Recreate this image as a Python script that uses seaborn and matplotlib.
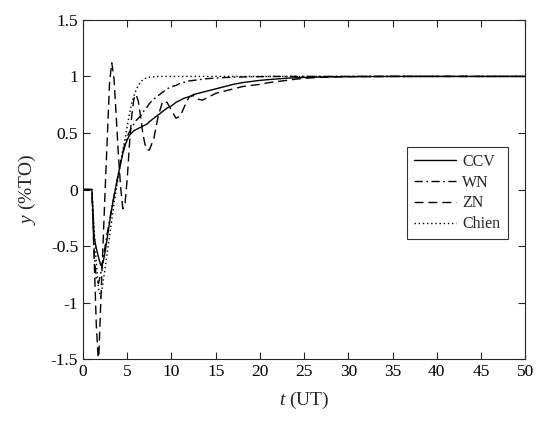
import numpy as np
import pandas as pd
import matplotlib
matplotlib.use('Agg')
import matplotlib.pyplot as plt
import seaborn as sns

# time samples (UT) shared by all four responses
t = [0, 1.0, 1.25, 1.5, 1.75, 2.0, 2.25, 2.5, 2.75, 3.0, 3.25, 3.5, 3.75, 4.0,
     4.25, 4.5, 4.75, 5.0, 5.25, 5.5, 5.75, 6.0, 6.25, 6.5, 6.75, 7.0, 7.25, 7.5,
     8.0, 8.5, 9.0, 9.5, 10.0, 10.5, 11.0, 11.5, 12.0, 12.5, 13.0, 13.5, 14.0,
     15, 16, 17, 18, 19, 20, 21, 22, 23, 24, 25, 27, 30, 35, 40, 50]

ccv = [0, 0, -0.42, -0.52, -0.60, -0.67, -0.65, -0.55, -0.42, -0.29, -0.17, -0.06, 0.04, 0.14,
       0.23, 0.32, 0.39, 0.44, 0.48, 0.50, 0.52, 0.53, 0.54, 0.55, 0.56, 0.57, 0.58, 0.60,
       0.63, 0.66, 0.69, 0.72, 0.74, 0.77, 0.79, 0.81, 0.82, 0.84, 0.85, 0.86, 0.87,
       0.89, 0.91, 0.93, 0.945, 0.955, 0.965, 0.972, 0.978, 0.984, 0.988, 0.991, 0.995, 0.998, 1, 1, 1]

wn = [0, 0, -0.55, -0.80, -0.83, -0.74, -0.62, -0.50, -0.38, -0.27, -0.16, -0.06, 0.04, 0.14,
      0.24, 0.33, 0.41, 0.47, 0.51, 0.55, 0.58, 0.61, 0.63, 0.65, 0.68, 0.71, 0.73, 0.76,
      0.80, 0.83, 0.86, 0.89, 0.91, 0.92, 0.94, 0.95, 0.96, 0.965, 0.97, 0.975, 0.98,
      0.985, 0.99, 0.993, 0.995, 0.997, 0.998, 0.999, 1, 1, 1, 1, 1, 1, 1, 1, 1]

zn = [0, 0, -0.60, -1.20, -1.55, -1.00, -0.50, 0.00, 0.48, 0.95, 1.12, 0.98, 0.65, 0.30,
      0.02, -0.17, -0.12, 0.10, 0.40, 0.65, 0.80, 0.84, 0.78, 0.65, 0.50, 0.40, 0.35, 0.35,
      0.45, 0.65, 0.78, 0.77, 0.70, 0.63, 0.65, 0.74, 0.82, 0.83, 0.80, 0.79, 0.81,
      0.85, 0.87, 0.89, 0.91, 0.92, 0.93, 0.945, 0.955, 0.965, 0.975, 0.983, 0.993, 0.998, 1, 1, 1]

chien = [0, 0, -0.35, -0.65, -0.88, -0.95, -0.83, -0.69, -0.55, -0.41, -0.27, -0.13, 0.00, 0.12,
         0.24, 0.35, 0.45, 0.56, 0.67, 0.76, 0.83, 0.88, 0.92, 0.95, 0.97, 0.98, 0.99, 0.993,
         0.997, 1, 1, 1, 1, 1, 1, 1, 1, 1, 1, 1, 1,
         1, 1, 1, 1, 1, 1, 1, 1, 1, 1, 1, 1, 1, 1, 1, 1]

methods = ['CCV', 'WN', 'ZN', 'Chien']

df = pd.concat([pd.DataFrame({'t': t, 'y': v, 'method': m})
                for m, v in zip(methods, [ccv, wn, zn, chien])])

sns.set_style('ticks')
plt.rcParams['font.family'] = ['Liberation Serif', 'DejaVu Serif']
plt.rcParams['mathtext.fontset'] = 'custom'
plt.rcParams['mathtext.rm'] = 'Liberation Serif'
plt.rcParams['mathtext.it'] = 'Liberation Serif:italic'

fig = plt.figure(figsize=(5.5, 4.23), dpi=100)
ax = fig.add_axes([0.151, 0.151, 0.804, 0.802])

line_dashes = {'CCV': '', 'WN': (6, 2.5, 1.2, 2.5), 'ZN': (6.5, 3.5), 'Chien': (1, 2)}
sns.lineplot(data=df, x='t', y='y', hue='method', style='method',
             palette=['black'] * 4, dashes=line_dashes, linewidth=1.0,
             ax=ax, legend=True)

ax.set_xlim(0, 50)
ax.set_ylim(-1.5, 1.5)
ax.set_xticks(np.arange(0, 51, 5))
ax.set_yticks([-1.5, -1, -0.5, 0, 0.5, 1, 1.5])
ax.set_yticklabels(['-1.5', '-1', '-0.5', '0', '0.5', '1', '1.5'])
ax.tick_params(direction='in', top=True, right=True, length=5, width=0.8,
               labelsize=12.5, colors='#262626', labelcolor='black')
for s in ax.spines.values():
    s.set_linewidth(0.8)
    s.set_color('#262626')

ax.set_xlabel('$t$ (UT)', fontsize=14, labelpad=7)
ax.set_ylabel('$y$ (%TO)', fontsize=14, labelpad=9)

handles, labels = ax.get_legend_handles_labels()
leg = ax.legend(handles, labels, loc='upper left', bbox_to_anchor=(0.715, 0.65),
                fontsize=11.5, handlelength=2.6, handletextpad=0.4,
                frameon=True, fancybox=False, edgecolor='black',
                borderpad=0.45, labelspacing=0.3)
leg.get_frame().set_linewidth(0.8)

fig.savefig('out.png', dpi=100)
